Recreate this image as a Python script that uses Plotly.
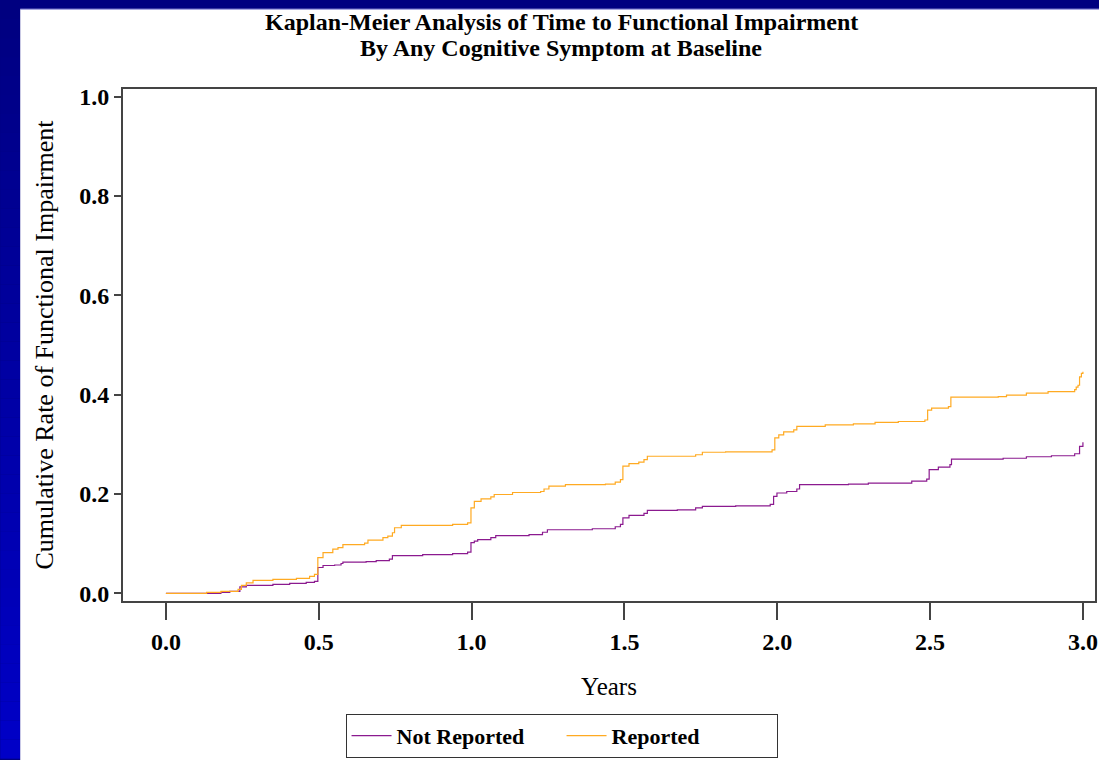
import plotly.graph_objects as go

# Kaplan-Meier cumulative rate of functional impairment, by group
reported_years = [
    0.000, 0.133, 0.180, 0.236, 0.247, 0.263, 0.285, 0.350,
    0.427, 0.470, 0.486, 0.497, 0.514, 0.546, 0.563, 0.579,
    0.650, 0.661, 0.710, 0.726, 0.741, 0.748, 0.770, 0.938,
    0.987, 0.998, 1.009, 1.031, 1.063, 1.074, 1.134, 1.226,
    1.237, 1.253, 1.307, 1.438, 1.470, 1.487, 1.495, 1.515,
    1.547, 1.564, 1.575, 1.733, 1.755, 1.831, 1.983, 1.992,
    2.005, 2.021, 2.054, 2.064, 2.157, 2.249, 2.320, 2.396,
    2.483, 2.492, 2.505, 2.560, 2.568, 2.723, 2.750, 2.815,
    2.886, 2.973, 2.978, 2.984, 2.989, 2.995, 3.000,
]
reported_rate = [
    0.000, 0.002, 0.004, 0.008, 0.016, 0.021, 0.026, 0.028,
    0.030, 0.034, 0.038, 0.072, 0.082, 0.089, 0.092, 0.098,
    0.101, 0.107, 0.112, 0.115, 0.122, 0.132, 0.137, 0.139,
    0.142, 0.172, 0.185, 0.190, 0.194, 0.199, 0.203, 0.205,
    0.210, 0.216, 0.219, 0.220, 0.224, 0.229, 0.256, 0.261,
    0.264, 0.269, 0.276, 0.279, 0.284, 0.285, 0.289, 0.313,
    0.319, 0.325, 0.329, 0.336, 0.339, 0.341, 0.344, 0.346,
    0.349, 0.369, 0.373, 0.376, 0.395, 0.396, 0.399, 0.403,
    0.406, 0.410, 0.415, 0.419, 0.436, 0.443, 0.446,
]

not_reported_years = [
    0.000, 0.180, 0.209, 0.242, 0.263, 0.350, 0.405, 0.459,
    0.486, 0.497, 0.514, 0.552, 0.573, 0.579, 0.655, 0.688,
    0.731, 0.741, 0.840, 0.938, 0.987, 0.998, 1.009, 1.020,
    1.063, 1.079, 1.188, 1.232, 1.248, 1.395, 1.470, 1.487,
    1.495, 1.515, 1.564, 1.575, 1.673, 1.733, 1.755, 1.864,
    1.977, 1.988, 1.999, 2.031, 2.064, 2.073, 2.233, 2.298,
    2.440, 2.489, 2.497, 2.527, 2.565, 2.570, 2.739, 2.815,
    2.897, 2.973, 2.989, 3.000,
]
not_reported_rate = [
    0.000, 0.002, 0.004, 0.013, 0.016, 0.018, 0.020, 0.022,
    0.024, 0.052, 0.056, 0.057, 0.060, 0.063, 0.064, 0.066,
    0.069, 0.076, 0.078, 0.080, 0.083, 0.102, 0.105, 0.108,
    0.112, 0.116, 0.118, 0.123, 0.128, 0.130, 0.134, 0.139,
    0.152, 0.157, 0.161, 0.167, 0.168, 0.172, 0.175, 0.176,
    0.179, 0.195, 0.202, 0.205, 0.210, 0.219, 0.220, 0.222,
    0.226, 0.230, 0.249, 0.254, 0.259, 0.270, 0.272, 0.275,
    0.277, 0.281, 0.296, 0.304,
]

x_ticks = [0.0, 0.5, 1.0, 1.5, 2.0, 2.5, 3.0]
y_ticks = [0.0, 0.2, 0.4, 0.6, 0.8, 1.0]

title_lines = [
    "Kaplan-Meier Analysis of Time to Functional Impairment",
    "By Any Cognitive Symptom at Baseline",
]

W, H = 1099, 760
ML, MR, MT, MB = 123, 2, 89, 158
PW, PH = W - ML - MR, H - MT - MB


def px_x(px):
    return (px - ML) / PW


def px_y(py):
    return (H - MB - py) / PH


SERIF = "Liberation Serif, Times New Roman, serif"

fig = go.Figure()
fig.add_trace(go.Scatter(
    x=not_reported_years, y=not_reported_rate, mode="lines",
    line=dict(color="#8B1A8F", width=1.2, shape="hv"),
    name="Not Reported",
))
fig.add_trace(go.Scatter(
    x=reported_years, y=reported_rate, mode="lines",
    line=dict(color="#FFAA22", width=1.2, shape="hv"),
    name="Reported",
))

# slide frame: navy band on top, blue gradient band on the left, white panel
shapes = []
n_bands = 40
for i in range(n_bands):
    y0 = H * i / n_bands
    y1 = H * (i + 1) / n_bands
    f = (i + 0.5) / n_bands
    b = int(128 + (200 - 128) * f)
    shapes.append(dict(
        type="rect", xref="paper", yref="paper", layer="below",
        x0=px_x(0), x1=px_x(20), y0=px_y(y1), y1=px_y(y0),
        fillcolor=f"rgb(0,0,{b})", line=dict(width=0),
    ))
shapes.append(dict(
    type="rect", xref="paper", yref="paper", layer="below",
    x0=px_x(20), x1=px_x(W + 5), y0=px_y(H + 5), y1=px_y(9),
    fillcolor="white", line=dict(width=0),
))
shapes.append(dict(
    type="line", xref="paper", yref="paper", layer="below",
    x0=px_x(20), x1=px_x(W + 5), y0=px_y(9), y1=px_y(9),
    line=dict(color="#9a9ae0", width=1),
))

annotations = []
for line_text, cy in zip(title_lines, [22, 48]):
    annotations.append(dict(
        text=line_text, showarrow=False,
        xref="paper", yref="paper", x=px_x(562), y=px_y(cy),
        xanchor="center", yanchor="middle",
        font=dict(family=SERIF, size=24, color="black", weight="bold"),
    ))

fig.update_layout(
    width=W, height=H,
    margin=dict(l=ML, r=MR, t=MT, b=MB),
    paper_bgcolor="#000080",
    plot_bgcolor="white",
    shapes=shapes,
    annotations=annotations,
    xaxis=dict(
        range=[(ML - 166) / 306.3, (W - MR - 166) / 306.3],
        tickvals=x_ticks, ticktext=[f"{v:.1f}" for v in x_ticks],
        ticks="outside", ticklen=17, tickwidth=2, tickcolor="#444",
        showline=True, linecolor="#444", linewidth=2, mirror=True,
        showgrid=False, zeroline=False, ticklabelstandoff=1,
        tickfont=dict(family=SERIF, size=24, color="black", weight="bold"),
        title=dict(text="Years", standoff=24,
                   font=dict(family=SERIF, size=25, color="black")),
    ),
    yaxis=dict(
        range=[(594.3 - 602) / 497.6, (594.3 - 89) / 497.6],
        tickvals=y_ticks, ticktext=[f"{v:.1f}" for v in y_ticks],
        ticks="outside", ticklen=7, tickwidth=2, tickcolor="#444",
        showline=True, linecolor="#444", linewidth=2, mirror=True,
        showgrid=False, zeroline=False,
        tickfont=dict(family=SERIF, size=24, color="black", weight="bold"),
        title=dict(text="Cumulative Rate of Functional Impairment", standoff=18,
                   font=dict(family=SERIF, size=26, color="black")),
    ),
    legend=dict(
        orientation="h",
        x=px_x(346), xanchor="left",
        y=px_y(715), yanchor="top",
        bgcolor="white", bordercolor="#333", borderwidth=1,
        font=dict(family=SERIF, size=22, color="black", weight="bold"),
        itemwidth=40, entrywidth=160, entrywidthmode="pixels",
        tracegroupgap=0,
    ),
    showlegend=True,
)

fig.write_html("out.html")
